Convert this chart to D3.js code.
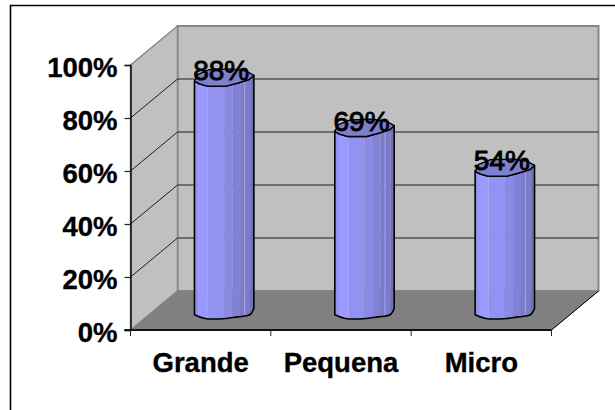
<!DOCTYPE html>
<html>
<head>
<meta charset="utf-8">
<script src="https://cdnjs.cloudflare.com/ajax/libs/d3/7.8.5/d3.min.js"></script>
<style>
  html, body { margin: 0; padding: 0; background: #fff; }
  svg { display: block; }
  text { font-family: "Liberation Sans", Arial, sans-serif; fill: #000; }
</style>
</head>
<body>
<svg id="chart" width="615" height="410"></svg>
<script>
// Chart values
const categories = ["Grande", "Pequena", "Micro"];
const shares = [88, 69, 54];
const yTicks = [0, 20, 40, 60, 80, 100];

// Oblique projection of the 3D box
const depth = { dx: 47, dy: -39 };
const front = { left: 130.5, right: 551.5, top: 65, bottom: 330 };
const barRadius = 29.7;

const svg = d3.select("#chart");
const y = d3.scaleLinear().domain([0, 100]).range([front.bottom, front.top]);
const x = d3.scaleBand().domain(categories).range([front.left, front.right]);
const line = d3.line();
const smooth = d3.line().curve(d3.curveCatmullRom.alpha(0.5));

// Outer frame, open on the right and bottom where it leaves the canvas
svg.append("path")
  .attr("d", "M10.5,410V5.5H615")
  .attr("fill", "none").attr("stroke", "#000").attr("stroke-width", 1.6);

// Walls and floor
const wallStroke = "#868686";
const yBack = v => y(v) + depth.dy;
const xBackL = front.left + depth.dx, xBackR = front.right + depth.dx;

svg.append("path") // back wall
  .attr("d", line([[xBackL, yBack(100)], [xBackR, yBack(100)], [xBackR, yBack(0)], [xBackL, yBack(0)]]) + "Z")
  .attr("fill", "#c0c0c0").attr("stroke", wallStroke).attr("stroke-width", 2);
svg.append("path") // side wall
  .attr("d", line([[front.left, y(100)], [xBackL, yBack(100)], [xBackL, yBack(0)], [front.left, y(0)]]) + "Z")
  .attr("fill", "#c0c0c0").attr("stroke", wallStroke).attr("stroke-width", 1.5);
svg.append("path") // floor
  .attr("d", line([[front.left, y(0)], [xBackL, yBack(0)], [xBackR, yBack(0)], [front.right, y(0)]]) + "Z")
  .attr("fill", "#808080").attr("stroke", wallStroke).attr("stroke-width", 1);
svg.append("path") // floor's right edge
  .attr("d", line([[front.right, y(0)], [xBackR, yBack(0)]]))
  .attr("fill", "none").attr("stroke", "#000").attr("stroke-width", 1);

// Gridlines run along the side wall and across the back wall
svg.append("g").selectAll("path")
  .data(yTicks.filter(t => t > 0 && t < 100))
  .join("path")
  .attr("d", t => line([[front.left, y(t)], [xBackL, yBack(t)], [xBackR, yBack(t)]]))
  .attr("fill", "none").attr("stroke", "#1c1c1c").attr("stroke-width", 1);

// Value axis
const yAxis = d3.axisLeft(y).tickValues(yTicks).tickFormat(d => d + "%").tickSize(6).tickPadding(7);
const yG = svg.append("g").attr("transform", `translate(${front.left},0)`).call(yAxis);
yG.select(".domain").attr("stroke", "#000").attr("stroke-width", 1.4);
yG.selectAll("line").attr("stroke", "#222").attr("stroke-width", 1.2);
yG.selectAll("text")
  .attr("font-size", 27.5).attr("font-weight", "bold")
  .attr("stroke", "#000").attr("stroke-width", 0.35)
  .attr("dy", null).attr("y", 11).style("font-family", '"Liberation Sans", Arial, sans-serif');

// Category axis: labels centred in each band, ticks on the band edges
const xAxis = d3.axisBottom(x).tickSize(0).tickPadding(20);
const xG = svg.append("g").attr("transform", `translate(0,${front.bottom})`).call(xAxis);
xG.select(".domain").remove();
xG.selectAll("text")
  .attr("font-size", 27.5).attr("font-weight", "bold")
  .attr("stroke", "#000").attr("stroke-width", 0.35)
  .attr("y", 0).attr("dy", 42).style("font-family", '"Liberation Sans", Arial, sans-serif');
svg.append("path")
  .attr("d", line([[front.left - 6, y(0)], [front.right, y(0)]]))
  .attr("stroke", "#111").attr("stroke-width", 2);
svg.append("g").selectAll("line")
  .data(d3.range(categories.length + 1))
  .join("line")
  .attr("x1", i => front.left + i * x.step()).attr("x2", i => front.left + i * x.step())
  .attr("y1", front.bottom).attr("y2", front.bottom + 6)
  .attr("stroke", "#222").attr("stroke-width", 1);

// Cylinders: the columns stand at mid-depth on the floor
const midDx = depth.dx / 2, midDy = depth.dy / 2;

// Facet shading of a cylinder side, from the lit left edge to the dark right edge
const facets = [
  { from: -30, to: -26.5, color: "#9090ee" },
  { from: -26.5, to: -16.5, color: "#9999ff" },
  { from: -16.5, to: 0, color: "#9292f2" },
  { from: 0, to: 8.5, color: "#8a8ae4" },
  { from: 8.5, to: 16, color: "#8181d6" },
  { from: 16, to: 26, color: "#7b7bcc" },
  { from: 26, to: 30, color: "#7070ba" }
];
const highlights = [-16.5, 20.5];

// Slightly irregular rims, as offsets from the cylinder axis
const rimFront = [[-barRadius, 3.7], [-25, 6.4], [-17, 8.8], [2, 8.8], [14, 5.6], [25, 2.2], [barRadius, -2]];
const rimBack = [[barRadius, -2], [22, -6.2], [8, -8.4], [-15, -7.6], [-26, -3], [-barRadius, 3.7]];
const baseFront = [[-barRadius, 4.2], [-19, 8], [2, 8], [12, 6.6], [17, 6], [26, 4], [barRadius, -2]];

const defs = svg.append("defs");
const bars = svg.append("g").selectAll("g")
  .data(categories.map((name, i) => ({ name, value: shares[i], i })))
  .join("g")
  .attr("transform", d => `translate(${x(d.name) + x.bandwidth() / 2 + midDx},0)`);

bars.each(function (d) {
  const g = d3.select(this);
  const top = y(d.value) + midDy, base = y(0) + midDy;
  const at = (pts, cy) => pts.map(([px, py]) => [px, cy + py]);
  const side =
    line(at(rimFront, top)) +
    "L" + barRadius + "," + (base - 2) +
    smooth(at(baseFront.slice().reverse(), base)).replace(/^M/, "L") + "Z";

  defs.append("clipPath").attr("id", "side" + d.i).append("path").attr("d", side);
  const fill = g.append("g").attr("clip-path", `url(#side${d.i})`);
  fill.selectAll("rect").data(facets).join("rect")
    .attr("x", f => f.from).attr("width", f => f.to - f.from)
    .attr("y", top - 12).attr("height", base - top + 24)
    .attr("fill", f => f.color);
  fill.selectAll("line").data(highlights).join("line")
    .attr("x1", h => h).attr("x2", h => h)
    .attr("y1", top - 12).attr("y2", base + 12)
    .attr("stroke", "#aeaef0").attr("stroke-width", 0.8);

  g.append("path").attr("d", side)
    .attr("fill", "none").attr("stroke", "#000").attr("stroke-width", 1.6).attr("stroke-linejoin", "round");
  g.append("path")
    .attr("d", line(at(rimFront.concat(rimBack.slice(1)), top)) + "Z")
    .attr("fill", "#7f7fd0").attr("stroke", "#000").attr("stroke-width", 1.4).attr("stroke-linejoin", "round");
});

// Value labels sit over the top rim of each cylinder
bars.append("text")
  .text(d => d.value + "%")
  .attr("x", -3)
  .attr("y", d => y(d.value) + midDy + 3)
  .attr("text-anchor", "middle")
  .attr("font-size", 28)
  .attr("stroke", "#000").attr("stroke-width", 0.9);
</script>
</body>
</html>
